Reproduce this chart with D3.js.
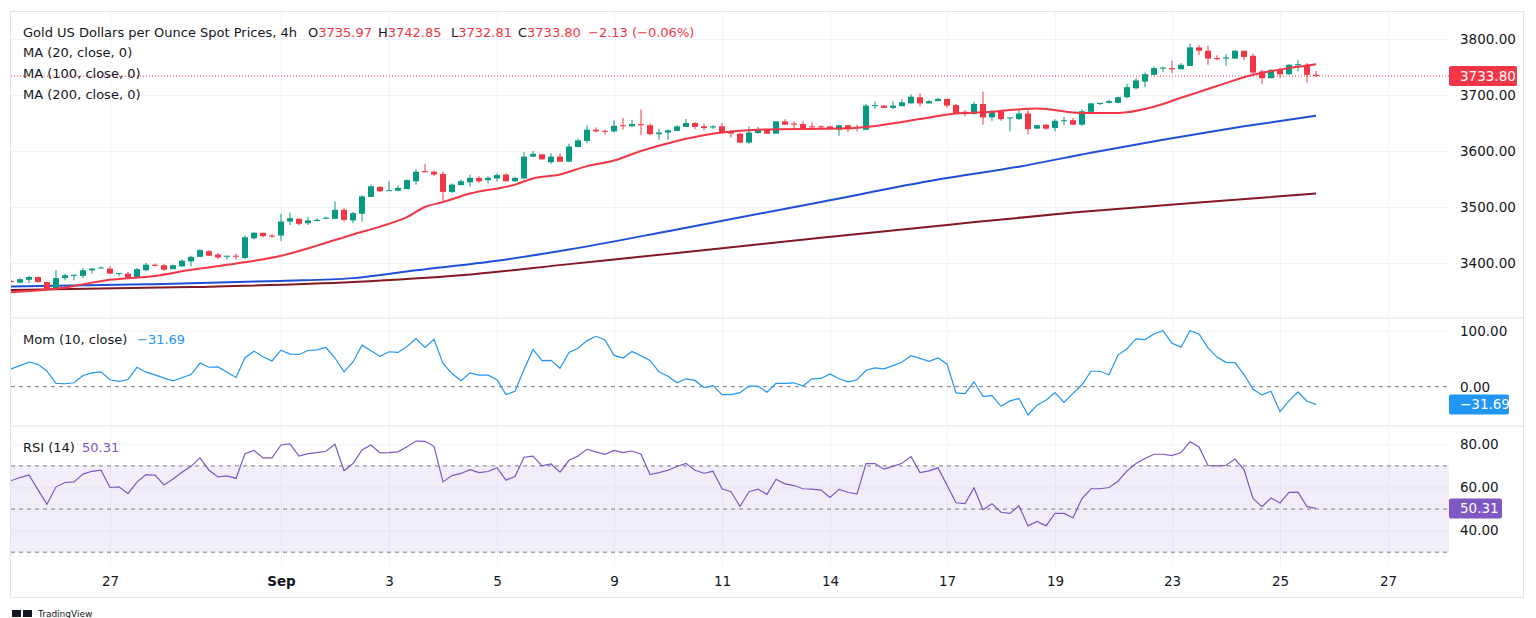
<!DOCTYPE html>
<html lang="en">
<head>
<meta charset="utf-8">
<title>gold-4h</title>
<script src="https://d3js.org/d3.v7.min.js"></script>
<style>
    body { margin: 0; background: #ffffff; overflow: hidden; }
    svg { display: block; font-family: "DejaVu Sans", Roboto, sans-serif; }
    .legend { font-size: 13px; fill: #131722; }
    .axis text { font-size: 13.5px; fill: #131722; font-family: "DejaVu Sans", sans-serif; }
    .axis path { display: none; }
</style>
</head>
<body>
<svg id="chart" width="1536" height="618"></svg>
<script>
// ---- data (4h candles, Aug 26 -> Sep 25) ----
const opens = [3368,3365,3370,3375,3366,3354,3373,3377,3377,3387,3391,3390,3381,3381,3375,3387,3397,3396,3389,3394,
    3403,3411,3421,3415,3412,3413,3409,3444,3454,3449,3449,3474,3479,3471,3475,3479,3479,3495,3476,3488,
    3518,3536,3529,3529,3532,3546,3564,3563,3559,3527,3539,3544,3552,3548,3551,3558,3546,3551,3590,3594,
    3580,3590,3581,3607,3618,3638,3636,3635,3646,3644,3648,3646,3630,3633,3636,3643,3650,3644,3642,3644,
    3634,3631,3615,3632,3639,3631,3653,3649,3648,3644,3644,3644,3638,3646,3643,3638,3681,3681,3677,3680,
    3685,3696,3685,3689,3693,3682,3670,3666,3684,3660,3671,3659,3657,3667,3640,3647,3641,3654,3655,3647,
    3670,3684,3686,3686,3696,3712,3724,3736,3747,3748,3746,3752,3785,3779,3766,3765,3765,3779,3770,3742,
    3730,3745,3737,3753,3754,3735.97]
const highs = [3370,3373,3377,3376,3367,3387,3381,3379,3391,3391,3394,3394,3382,3384,3391,3400,3399,3398,3397,3407,
    3413,3425,3423,3418,3413,3417,3449,3455,3454,3452,3488,3490,3479,3482,3480,3483,3510,3498,3491,3521,
    3540,3537,3546,3539,3549,3567,3577,3565,3563,3542,3549,3558,3555,3555,3560,3560,3554,3598,3600,3595,
    3596,3596,3613,3622,3646,3642,3638,3655,3659,3656,3674,3649,3640,3638,3646,3657,3651,3649,3646,3650,
    3637,3633,3644,3643,3639,3653,3657,3653,3653,3651,3646,3645,3646,3647,3647,3684,3688,3682,3689,3693,
    3701,3703,3691,3695,3693,3684,3673,3688,3706,3673,3673,3660,3673,3674,3647,3648,3657,3661,3659,3674,
    3686,3686,3692,3697,3720,3730,3740,3751,3751,3761,3757,3792,3789,3788,3771,3773,3780,3779,3774,3745,
    3746,3749,3755,3762,3757,3742.85]
const lows = [3365,3364,3364,3365,3352,3352,3369,3369,3373,3381,3390,3380,3376,3373,3374,3386,3394,3386,3389,3393,
    3394,3411,3413,3407,3406,3406,3407,3442,3446,3445,3439,3468,3467,3468,3474,3479,3479,3474,3471,3474,
    3518,3527,3529,3528,3532,3540,3562,3555,3511,3525,3539,3536,3543,3542,3546,3546,3545,3549,3589,3585,
    3577,3581,3580,3607,3614,3633,3629,3633,3638,3644,3628,3628,3620,3620,3635,3643,3639,3637,3639,3631,
    3624,3614,3613,3631,3631,3631,3646,3639,3639,3639,3640,3638,3627,3634,3635,3637,3675,3677,3675,3680,
    3685,3680,3685,3689,3677,3666,3662,3665,3647,3654,3654,3635,3655,3630,3640,3638,3635,3646,3647,3645,
    3669,3682,3685,3685,3694,3710,3714,3735,3741,3739,3746,3752,3771,3754,3762,3752,3765,3762,3737,3720,
    3730,3730,3736,3742,3722,3732.81]
const closes = [3367,3371,3375,3366,3354,3373,3378,3379,3387,3390,3392,3381,3382,3374,3389,3397,3395,3388,3396,3404,
    3411,3423,3413,3410,3413,3412,3446,3454,3448,3448,3474,3480,3470,3476,3477,3481,3495,3477,3489,3519,
    3537,3528,3530,3534,3548,3563,3562,3558,3527,3540,3546,3552,3546,3552,3557,3546,3552,3590,3595,3585,
    3590,3581,3608,3619,3638,3635,3635,3645,3645,3648,3646,3630,3633,3637,3644,3650,3643,3641,3644,3632,
    3631,3615,3633,3639,3631,3653,3647,3647,3641,3643,3643,3639,3646,3639,3641,3681,3682,3677,3681,3687,
    3697,3685,3689,3693,3681,3667,3667,3684,3660,3670,3657,3660,3667,3639,3646,3640,3654,3655,3647,3671,
    3685,3686,3689,3696,3714,3726,3737,3748,3749,3746,3754,3785,3779,3765,3764,3767,3779,3768,3740,3730,
    3745,3737,3754,3755,3736,3733.80]

// moving averages, read at sample candles
const ma20Idx = [0,5,11,16,20,25,30,34,38,41,44,46,48,51,56,58,61,64,67,70,74,76,79,82,85,92,95,97,101,105,108,111,114,119,123,127,130,134,138,142,145]
const ma20Val = [3348,3354,3370,3377,3388,3399,3413,3431,3451,3465,3482,3500,3509,3524,3540,3551,3558,3573,3583,3600,3618,3625,3633,3637,3639,3640,3643,3647,3657,3667,3669,3673,3676,3668,3668,3679,3695,3716,3736,3748,3755]
const ma100Idx = [0,15,30,38,45,54,62,74,90,103,112,120,128,137,145]
const ma100Val = [3358,3362,3368,3373,3387,3404,3424,3460,3509,3549,3572,3597,3620,3644,3663]
const ma200Idx = [0,20,38,50,62,74,90,104,118,132,145]
const ma200Val = [3352,3357,3366,3378,3398,3418,3445,3468,3490,3508,3524]

const momValues = [31.8,37.6,44.1,40,27.6,5.9,5.3,7,20,24.7,26.5,12.3,9.4,12.9,34.7,25.9,21.2,15.3,10.6,15.9,
    21.7,42.3,34.7,35.3,25.9,16.5,51.7,63.5,53.5,45.9,65.3,58.2,57.6,64.7,65.9,70,51.2,26.5,44.1,74.1,
    64.1,54.1,62.4,61.2,71.7,85.8,70,84.7,41.7,23.5,10.6,24.7,20.6,20.6,12.4,-14.1,-8.2,30.6,66.5,46.5,
    47,32.9,61.2,68.8,82.3,90,83.5,55.9,51.2,62.9,55.3,47,26.5,18.8,7,14.1,11.2,-1.8,1.8,-14.1,
    -14.1,-10.6,1.2,1.2,-10,5.9,5.9,7,1.2,14.1,14.7,22.9,14.1,8.8,12.4,29.4,33.5,31.8,37.6,44.1,
    55.3,50.6,45.3,51.2,40.6,-11.2,-12.4,8.8,-17.1,-15.9,-35,-25.3,-21.2,-50.6,-32.9,-24.1,-10.6,-28.2,-11.8,3.5,
    27.6,27.6,21.2,56.5,67.6,85.3,84.1,94.1,100,77.6,70.6,100,94.1,69.4,52.9,43.5,42.9,21.7,-4.7,-14.7,
    -8.2,-44.7,-25.3,-9.4,-25.9,-31.69]
const rsiValues = [63.1,64.6,65.8,58.9,52.2,60.3,62.3,62.6,66.2,67.5,68,60,60.3,57.1,62.5,66,65.7,61.2,63.9,67.1,
    69.8,73.7,68,64.9,65.4,64.2,75.7,77.2,73.7,73.7,79.7,80.2,74.6,75.7,76.2,76.8,80,67.8,71.1,77.4,
    79.7,76,76.2,76.5,78.9,81.5,81.4,79.1,62.6,65.5,66.5,68.3,66.9,67.4,69.2,63.4,65.1,74,74.5,70,
    70.9,67.1,72.6,74.6,77.7,76.5,75.4,77.2,76.2,76.9,75.4,66,66.9,68,69.7,71.2,68,66.6,67.5,59.4,
    58,51.2,58,59.2,56.8,63.8,61.7,60.9,59.4,59.2,58.8,55.4,59.1,57.8,56.9,71.1,71.1,68.5,69.8,71.2,
    74.3,66.9,67.7,69.1,61.1,52.9,52.5,59.8,49.7,52.5,48.5,48,51.5,42.2,44.3,42.2,48,48,46,54.9,
    59.4,59.4,60,62.9,67.7,71.1,73.4,75.4,75.4,74.8,76.2,81.2,78.8,70.2,70,70.3,73.2,68.3,54.9,51.1,
    55.1,52.8,57.7,57.8,51.1,50.31]

const dateTickIdx = [11,30,42,54,67,79,91,104,116,129,141,153]
const dateTickLabels = ["27","Sep","3","5","9","11","14","17","19","23","25","27"]
const priceTicks = [3400,3500,3600,3700,3800]
const momTicks = [100]
const rsiTicks = [40,60,80]
const rsiBands = [70,50,30]

const lastPrice = 3733.80
const lastMom = -31.69
const lastRsi = 50.31

// ---- layout ----
const left = 11, plotRight = 1449, frameRight = 1523
const paneTop = 12, momTop = 318, rsiTop = 426, rsiBottom = 566, frameBottom = 597

const green = "#089981", red = "#f23645"

let svg = d3.select('#chart')

const x = d3.scaleLinear().domain([0, (plotRight - left) / 9]).range([left, plotRight])
const yPrice = d3.scaleLinear().domain([3301.8, 3848.2]).range([momTop, paneTop])
const yMom = d3.scaleLinear().domain([-70.2, 122.7]).range([rsiTop, momTop])
const yRsi = d3.scaleLinear().domain([23.6, 88.5]).range([rsiBottom, rsiTop])

svg.append("clipPath").attr("id", "plotclip")
    .append("rect").attr("x", left).attr("y", paneTop).attr("width", plotRight - left).attr("height", rsiBottom - paneTop)

// vertical grid from the date axis
svg.append("g")
    .attr("transform", `translate(0,${rsiBottom})`)
    .call(d3.axisBottom(x).tickValues(dateTickIdx).tickSize(-(rsiBottom - paneTop)).tickFormat(""))
    .call(g => g.select(".domain").remove())
    .selectAll("line").attr("stroke", "#f0f3fa")

// horizontal grids
function hgrid(scale, ticks) {
    svg.append("g")
        .attr("transform", `translate(${left},0)`)
        .call(d3.axisRight(scale).tickValues(ticks).tickSize(plotRight - left).tickFormat(""))
        .call(g => g.select(".domain").remove())
        .selectAll("line").attr("stroke", "#f0f3fa")
}
hgrid(yPrice, priceTicks)
hgrid(yMom, momTicks)
hgrid(yRsi, rsiTicks)

// rsi band
svg.append("rect")
    .attr("x", left).attr("width", plotRight - left)
    .attr("y", yRsi(70)).attr("height", yRsi(30) - yRsi(70))
    .attr("fill", "rgba(126,87,194,0.1)")

// dashed levels
svg.selectAll(".rsilevel")
    .data(rsiBands)
    .join("line")
    .attr("x1", left).attr("x2", plotRight)
    .attr("y1", d => yRsi(d)).attr("y2", d => yRsi(d))
    .attr("stroke", "#787b86").attr("stroke-dasharray", "4,4")
svg.append("line")
    .attr("x1", left).attr("x2", plotRight)
    .attr("y1", yMom(0)).attr("y2", yMom(0))
    .attr("stroke", "#787b86").attr("stroke-dasharray", "4,4")

// pane separators + frame
svg.selectAll(".sep")
    .data([momTop, rsiTop])
    .join("line")
    .attr("x1", left).attr("x2", frameRight)
    .attr("y1", d => d).attr("y2", d => d)
    .attr("stroke", "#e0e3eb")
svg.append("rect")
    .attr("x", left - 0.5).attr("y", paneTop - 0.5)
    .attr("width", frameRight - left + 1).attr("height", frameBottom - paneTop + 1)
    .attr("fill", "none").attr("stroke", "#e0e3eb")

let plot = svg.append("g").attr("clip-path", "url(#plotclip)")

// current price line
plot.append("line")
    .attr("x1", left).attr("x2", plotRight)
    .attr("y1", yPrice(lastPrice)).attr("y2", yPrice(lastPrice))
    .attr("stroke", red).attr("stroke-dasharray", "1,2")

// moving averages
function maLine(idx, vals, color) {
    const pts = idx.map((d, i) => [d, vals[i]])
    plot.append("path")
        .datum(pts)
        .attr("d", d3.line().x(d => x(d[0])).y(d => yPrice(d[1])).curve(d3.curveMonotoneX))
        .attr("fill", "none").attr("stroke", color).attr("stroke-width", 2)
}
maLine(ma200Idx, ma200Val, "#801922")
maLine(ma100Idx, ma100Val, "#1f4fd6")

// candles
const candles = opens.map((o, i) => ({ i: i, o: o, h: highs[i], l: lows[i], c: closes[i] }))
let cg = plot.selectAll(".candle")
    .data(candles)
    .join("g")
    .attr("fill", d => d.c >= d.o ? green : red)
    .attr("stroke", d => d.c >= d.o ? green : red)
cg.append("line")
    .attr("x1", d => x(d.i)).attr("x2", d => x(d.i))
    .attr("y1", d => yPrice(d.h)).attr("y2", d => yPrice(d.l))
    .attr("stroke-width", 1)
cg.append("rect")
    .attr("x", d => x(d.i) - 3)
    .attr("width", 6)
    .attr("y", d => yPrice(Math.max(d.o, d.c)))
    .attr("height", d => Math.max(1, Math.abs(yPrice(d.o) - yPrice(d.c))))
    .attr("stroke", "none")

maLine(ma20Idx, ma20Val, red)

// momentum + rsi lines
plot.append("path")
    .datum(momValues)
    .attr("d", d3.line().x((d, i) => x(i)).y(d => yMom(d)))
    .attr("fill", "none").attr("stroke", "#2196f3").attr("stroke-width", 1.2)
plot.append("path")
    .datum(rsiValues)
    .attr("d", d3.line().x((d, i) => x(i)).y(d => yRsi(d)))
    .attr("fill", "none").attr("stroke", "#7e57c2").attr("stroke-width", 1.2)

// right axes
function rightAxis(scale, ticks) {
    svg.append("g")
        .attr("class", "axis")
        .attr("transform", `translate(${plotRight},0)`)
        .call(d3.axisRight(scale).tickValues(ticks).tickSize(0).tickPadding(11).tickFormat(d3.format(".2f")))
}
rightAxis(yPrice, priceTicks)
rightAxis(yMom, [0, 100])
rightAxis(yRsi, rsiTicks)

// date axis
svg.append("g")
    .attr("class", "axis")
    .attr("transform", `translate(0,${rsiBottom})`)
    .call(d3.axisBottom(x).tickValues(dateTickIdx).tickSize(0).tickPadding(10).tickFormat((d, i) => dateTickLabels[i]))
    .selectAll("text")
    .attr("font-weight", (d, i) => dateTickLabels[i] == "Sep" ? "bold" : null)

// last value tags
function tag(y, w, color, label) {
    svg.append("rect").attr("x", plotRight).attr("y", y - 10).attr("width", w).attr("height", 20)
        .attr("rx", 2).attr("fill", color)
    svg.append("text").attr("x", plotRight + 11).attr("y", y + 5)
        .attr("font-size", 13.5).attr("fill", "#ffffff").text(label)
}
tag(yPrice(lastPrice), 68, red, d3.format(".2f")(lastPrice))
tag(yMom(lastMom), 60, "#2196f3", d3.format(".2f")(lastMom).replace("-", "\u2212"))
tag(yRsi(lastRsi), 53, "#7e57c2", d3.format(".2f")(lastRsi))

// legends
let lg = svg.append("text").attr("class", "legend").attr("y", 37)
lg.append("tspan").attr("x", 23).text("Gold US Dollars per Ounce Spot Prices, 4h")
const ohlc = [["O", 3735.97, 308], ["H", 3742.85, 378], ["L", 3732.81, 451], ["C", 3733.80, 518]]
ohlc.forEach(p => {
    lg.append("tspan").attr("x", p[2]).text(p[0])
    lg.append("tspan").attr("fill", red).text(p[1].toFixed(2))
})
lg.append("tspan").attr("x", 588).attr("fill", red).text("\u22122.13 (\u22120.06%)")

const maNames = ["MA (20, close, 0)", "MA (100, close, 0)", "MA (200, close, 0)"]
svg.selectAll(".malegend")
    .data(maNames)
    .join("text")
    .attr("class", "legend")
    .attr("x", 23).attr("y", (d, i) => 57 + i * 21)
    .text(d => d)

let ml = svg.append("text").attr("class", "legend").attr("y", 344)
ml.append("tspan").attr("x", 23).text("Mom (10, close)")
ml.append("tspan").attr("x", 137).attr("fill", "#2196f3").text("\u221231.69")
let rl = svg.append("text").attr("class", "legend").attr("y", 452)
rl.append("tspan").attr("x", 23).text("RSI (14)")
rl.append("tspan").attr("x", 82).attr("fill", "#7e57c2").text("50.31")

// watermark at the bottom edge
svg.append("rect").attr("x", 12).attr("y", 610).attr("width", 9).attr("height", 7).attr("fill", "#131722")
svg.append("rect").attr("x", 23).attr("y", 610).attr("width", 9).attr("height", 7).attr("fill", "#131722")
svg.append("text").attr("x", 38).attr("y", 617).attr("font-size", 9).attr("fill", "#131722").text("TradingView")
</script>
</body>
</html>
